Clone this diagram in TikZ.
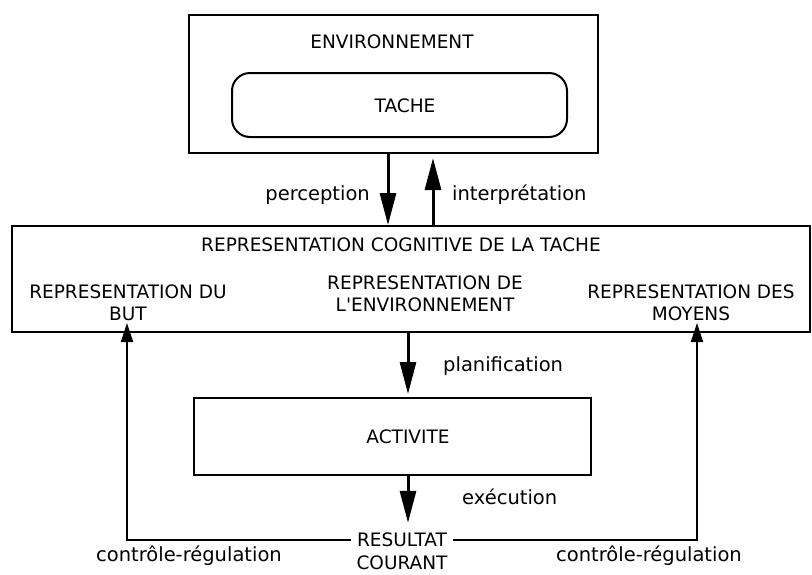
\documentclass[tikz,border=0pt]{standalone}
\usepackage{fontspec}
\setmainfont{DejaVu Sans}[Ligatures=TeXOff]
\usetikzlibrary{arrows.meta}
\begin{document}
\begin{tikzpicture}[x=1pt,y=-1pt,
  caps/.style={font=\fontsize{18.5}{22}\selectfont, inner sep=0pt, align=center},
  lower/.style={font=\fontsize{19.5}{22}\selectfont, inner sep=0pt},
  frame/.style={draw, line width=2pt, inner sep=0pt},
  bigarrow/.style={line width=3pt, -{Triangle[length=32pt,width=16pt]}},
  fbarrow/.style={line width=2pt, -{Triangle[length=19pt,width=12pt]}}]
\useasboundingbox (0,0) rectangle (812,574);
% boxes
\node[frame, minimum width=409pt, minimum height=138pt] (env) at (393.5,84) {};
\node[caps] (envt) at (392,41.5) {ENVIRONNEMENT};
\node[frame, rounded corners=18pt, minimum width=335pt, minimum height=64pt] (tache) at (399.5,105) {};
\node[caps] (tachet) at (405,105.5) {TACHE};
\node[frame, minimum width=798pt, minimum height=106pt] (cog) at (411,279) {};
\node[caps] (cogt) at (401,245) {REPRESENTATION COGNITIVE DE LA TACHE};
\node[caps] (but) at (128,303) {REPRESENTATION DU\\BUT};
\node[caps] (envr) at (425,294) {REPRESENTATION DE\\L'ENVIRONNEMENT};
\node[caps] (moy) at (691,303) {REPRESENTATION DES\\MOYENS};
\node[frame, minimum width=397pt, minimum height=77pt] (act) at (392.5,436.5) {};
\node[caps] (actt) at (408,436.5) {ACTIVITE};
\node[caps, inner xsep=6pt] (res1) at (402,540) {RESULTAT};
\node[caps] (res2) at (402,563) {COURANT};
% x positions of connectors
\coordinate (xp) at (388,0);
\coordinate (xi) at (433,0);
\coordinate (xpl) at (408,0);
\coordinate (xL) at (127,0);
\coordinate (xR) at (697,0);
% connectors
\draw[bigarrow] (env.south -| xp) -- (cog.north -| xp);
\draw[bigarrow, shorten >=4pt] (cog.north -| xi) -- (env.south -| xi);
\draw[bigarrow, shorten >=3pt] (cog.south -| xpl) -- (act.north -| xpl);
\draw[bigarrow, shorten >=10pt] (act.south -| xpl) -- (res1.north -| xpl);
\draw[fbarrow, shorten >=-10pt] (res1.west) -| (cog.south -| xL);
\draw[fbarrow, shorten >=-10pt] (res1.east) -| (cog.south -| xR);
% labels
\node[lower, anchor=base east] (lperc) at (370,200) {perception};
\node[lower, anchor=base west] (linterp) at (452,200) {interprétation};
\node[lower, anchor=base west] (lplan) at (443,371) {planification};
\node[lower, anchor=base west] (lexec) at (462,504) {exécution};
\node[lower, anchor=base east] (lcrL) at (282,561) {contrôle-régulation};
\node[lower, anchor=base east] (lcrR) at (742,561) {contrôle-régulation};
\end{tikzpicture}
\end{document}
